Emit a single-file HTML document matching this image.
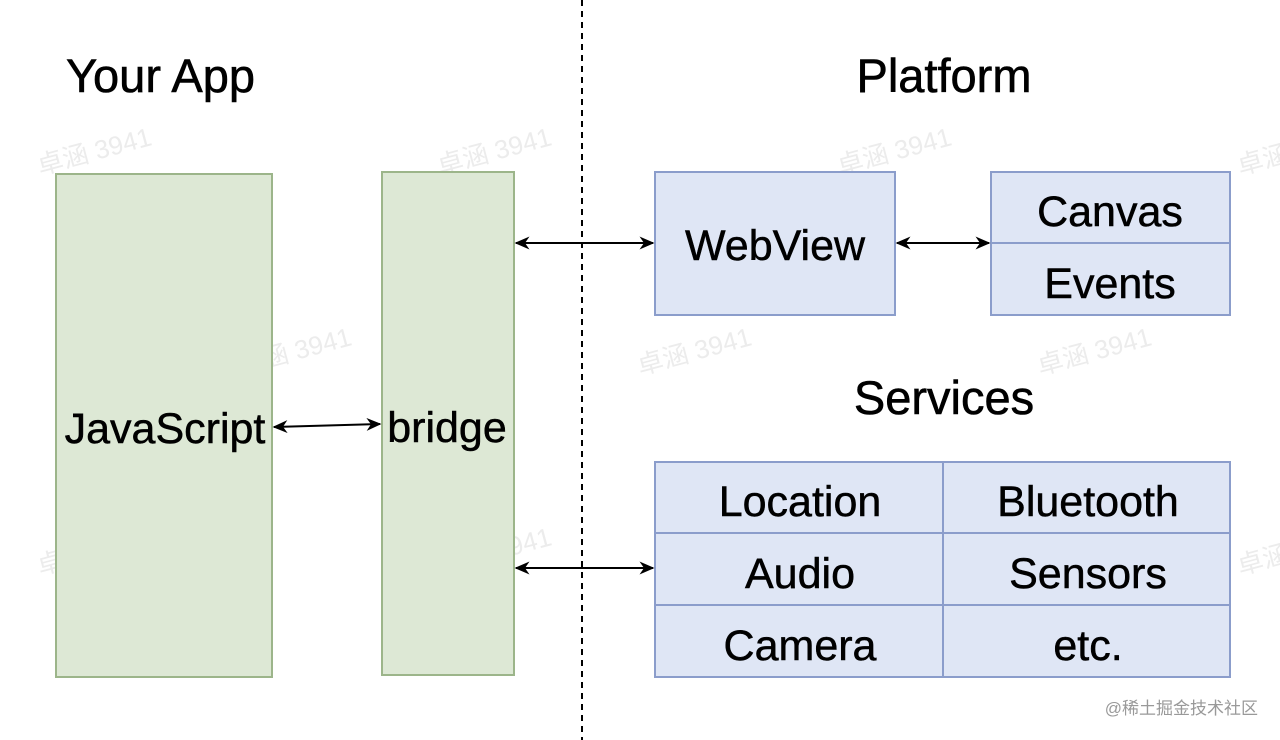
<!DOCTYPE html>
<html><head><meta charset="utf-8"><style>
html,body{margin:0;padding:0;background:#fff;}
svg{display:block;font-family:"Liberation Sans","Noto Sans CJK SC",sans-serif;}
</style></head><body>
<svg width="1280" height="740" viewBox="0 0 1280 740" xmlns="http://www.w3.org/2000/svg">
<defs>
<marker id="a" viewBox="0 0 10 10" refX="9" refY="5" markerWidth="15" markerHeight="13" orient="auto-start-reverse" markerUnits="userSpaceOnUse" preserveAspectRatio="none">
<path d="M0,0 L10,5 L0,10 L3,5 z" fill="#000"/></marker>
</defs>
<rect width="1280" height="740" fill="#fff"/>
<g fill="#ececec" font-size="26">
<text x="40" y="175" transform="rotate(-15 40 175)">卓涵 3941</text>
<text x="440" y="175" transform="rotate(-15 440 175)">卓涵 3941</text>
<text x="840" y="175" transform="rotate(-15 840 175)">卓涵 3941</text>
<text x="1240" y="175" transform="rotate(-15 1240 175)">卓涵 3941</text>
<text x="240" y="375" transform="rotate(-15 240 375)">卓涵 3941</text>
<text x="640" y="375" transform="rotate(-15 640 375)">卓涵 3941</text>
<text x="1040" y="375" transform="rotate(-15 1040 375)">卓涵 3941</text>
<text x="40" y="575" transform="rotate(-15 40 575)">卓涵 3941</text>
<text x="440" y="575" transform="rotate(-15 440 575)">卓涵 3941</text>
<text x="840" y="575" transform="rotate(-15 840 575)">卓涵 3941</text>
<text x="1240" y="575" transform="rotate(-15 1240 575)">卓涵 3941</text>
</g>
<line x1="582" y1="0" x2="582" y2="740" stroke="#000" stroke-width="2" stroke-dasharray="6,5"/>
<g font-size="47" fill="#000" stroke="#000" stroke-width="0.6">
<text x="66" y="92">Your App</text>
<text x="944" y="92" text-anchor="middle">Platform</text>
<text x="944" y="414" text-anchor="middle">Services</text>
</g>
<g stroke="#9cb58a" stroke-width="2" fill="#dde8d5">
<rect x="56" y="174" width="216" height="503"/>
<rect x="382" y="172" width="132" height="503"/>
</g>
<g stroke="#8b9dcb" stroke-width="2" fill="#dfe6f5">
<rect x="655" y="172" width="240" height="143"/>
<rect x="991" y="172" width="239" height="143"/>
<line x1="991" y1="243" x2="1230" y2="243"/>
<rect x="655" y="462" width="575" height="215"/>
<line x1="943" y1="462" x2="943" y2="677"/>
<line x1="655" y1="533" x2="1230" y2="533"/>
<line x1="655" y1="605" x2="1230" y2="605"/>
</g>
<g font-size="43" fill="#000" stroke="#000" stroke-width="0.5" text-anchor="middle">
<text x="165" y="443">JavaScript</text>
<text x="447" y="442">bridge</text>
<text x="775" y="260">WebView</text>
<text x="1110" y="226">Canvas</text>
<text x="1110" y="298">Events</text>
<text x="800" y="516">Location</text>
<text x="1088" y="516">Bluetooth</text>
<text x="800" y="588">Audio</text>
<text x="1088" y="588">Sensors</text>
<text x="800" y="660">Camera</text>
<text x="1088" y="660">etc.</text>
</g>
<g stroke="#000" stroke-width="2" marker-start="url(#a)" marker-end="url(#a)">
<line x1="516" y1="243" x2="653" y2="243"/>
<line x1="897" y1="243" x2="989" y2="243"/>
<line x1="274" y1="427" x2="380" y2="424"/>
<line x1="516" y1="568" x2="653" y2="568"/>
</g>
<text x="1258" y="714" font-size="17" fill="#999" text-anchor="end">@稀土掘金技术社区</text>
</svg>
</body></html>
